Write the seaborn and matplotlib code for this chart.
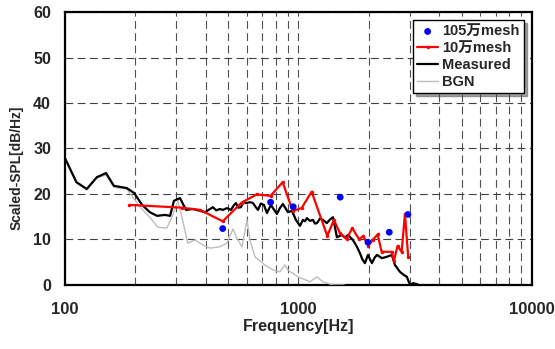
import numpy as np
import pandas as pd
import matplotlib
matplotlib.use("Agg")
import matplotlib.pyplot as plt
from matplotlib.ticker import FixedLocator, NullFormatter
import seaborn as sns

#%% data
# 105万mesh (blue dots)
mesh105_f = [474, 760, 950, 1510, 1985, 2449, 2944]
mesh105_db = [12.4, 18.2, 17.2, 19.3, 9.4, 11.6, 15.5]

# 10万mesh (red line)
mesh10_f = [189, 316, 379, 474, 571, 662, 760, 856, 945, 1032, 1139, 1329, 1419,
            1506, 1609, 1700, 1821, 1895, 1991, 2078, 2184, 2272, 2506, 2564,
            2659, 2767, 2859, 2953]
mesh10_db = [17.6, 17.0, 16.5, 14.0, 18.1, 19.9, 19.6, 22.6, 16.3, 16.9, 20.5,
             10.8, 14.3, 11.4, 10.1, 12.5, 10.0, 10.8, 8.6, 9.9, 11.1, 7.3,
             7.3, 5.3, 8.6, 7.3, 15.6, 6.1]

# Measured (black)
meas_f = [100, 112, 124, 137, 150, 162, 184, 198, 214, 231, 248, 268, 282, 293,
          311, 330, 353, 379, 398, 415, 430, 445, 461, 475, 494, 514, 527, 540,
          553, 567, 582, 596, 620, 639, 655, 671, 690, 712, 733, 762, 785, 809,
          833, 858, 902, 938, 976, 1015, 1045, 1066, 1087, 1120, 1154, 1177,
          1200, 1237, 1274, 1324, 1365, 1406, 1462, 1536, 1580, 1629, 1711,
          1781, 1834, 1880, 1927, 1985, 2064, 2120, 2169, 2279, 2393, 2514,
          2590, 2721, 2830, 2915, 3003, 3093, 3217, 3314, 3446, 3586]
meas_db = [27.9, 22.6, 21.1, 23.7, 24.6, 21.8, 21.3, 20.2, 17.6, 16.0, 15.2,
           15.4, 15.2, 18.5, 19.1, 16.5, 16.7, 16.3, 16.0, 16.6, 17.1, 16.4,
           16.7, 16.5, 16.9, 16.5, 17.4, 18.0, 17.0, 17.1, 18.3, 18.0, 18.2,
           18.0, 17.2, 16.5, 17.9, 17.6, 15.8, 17.6, 16.6, 15.6, 16.9, 17.8,
           16.0, 16.3, 14.3, 13.0, 14.3, 14.0, 14.7, 14.1, 14.3, 13.5, 13.6,
           14.6, 14.3, 13.6, 14.4, 14.9, 10.5, 11.0, 10.4, 11.0, 9.9, 8.4, 7.0,
           5.6, 4.8, 6.6, 4.8, 6.0, 6.6, 5.9, 6.2, 6.6, 4.4, 2.9, 2.2, 1.8, 0.0,
           0.4, 0.2, -0.2, 0.0, -0.4]

# BGN (grey)
bgn_f = [100, 112, 124, 137, 150, 162, 184, 210, 231, 250, 273, 287, 305, 317,
         336, 360, 390, 418, 461, 494, 524, 545, 573, 602, 620, 651, 719, 778,
         833, 875, 902, 995, 1120, 1200, 1274, 1406, 1551, 1695]
bgn_db = [27.9, 22.4, 20.9, 23.5, 24.2, 21.5, 21.1, 17.1, 14.9, 12.7, 12.5,
          14.9, 18.5, 14.9, 9.2, 9.9, 8.8, 8.1, 8.4, 9.2, 12.3, 10.3, 8.4,
          14.3, 9.9, 6.2, 4.4, 3.3, 2.9, 4.4, 3.3, 1.8, 0.7, 1.8, 0.7, 0.0,
          0.0, -0.4]

x_major = [100, 1000, 10000]
x_minor = [200, 300, 400, 500, 600, 700, 800, 900,
           2000, 3000, 4000, 5000, 6000, 7000, 8000, 9000]

#%% plot
sns.set_style("white")
plt.rcParams["font.family"] = ["Liberation Sans", "Noto Sans CJK JP"]
plt.rcParams["font.weight"] = "bold"

fig = plt.figure(figsize=(5.55, 3.49), dpi=100)
ax = fig.add_axes([0.117, 0.1834, 0.8414, 0.7822])

bgn = pd.DataFrame({"f": bgn_f, "db": bgn_db})
meas = pd.DataFrame({"f": meas_f, "db": meas_db})
m10 = pd.DataFrame({"f": mesh10_f, "db": mesh10_db})
m105 = pd.DataFrame({"f": mesh105_f, "db": mesh105_db})

sns.lineplot(data=bgn, x="f", y="db", color="#bdbdbd", lw=1.0,
             estimator=None, label="BGN", ax=ax, zorder=3)
sns.lineplot(data=meas, x="f", y="db", color="black", lw=1.6,
             estimator=None, label="Measured", ax=ax, zorder=4)
sns.lineplot(data=m10, x="f", y="db", color="red", lw=1.6, marker="o",
             markersize=2.5, markeredgewidth=0, estimator=None,
             label="10万mesh", ax=ax, zorder=5)
sns.scatterplot(data=m105, x="f", y="db", color="blue", s=24,
                edgecolor="none", label="105万mesh", ax=ax, zorder=6)

ax.set_xscale("log")
ax.set_xlim(100, 10000)
ax.set_ylim(0, 60)
ax.xaxis.set_major_locator(FixedLocator(x_major))
ax.xaxis.set_minor_locator(FixedLocator(x_minor))
ax.xaxis.set_minor_formatter(NullFormatter())
ax.set_xticklabels([str(v) for v in x_major])
ax.set_yticks(range(0, 61, 10))

dash = (0, (7, 4))
ax.grid(True, axis="y", which="major", color="#404040", lw=0.8, linestyle=dash)
ax.grid(True, axis="x", which="both", color="#505050", lw=0.8, linestyle=dash)
ax.set_axisbelow(True)

ax.tick_params(axis="both", which="both", length=0)
ax.tick_params(axis="x", pad=12, labelsize=12)
ax.tick_params(axis="y", pad=10, labelsize=11.5)
for s in ax.spines.values():
    s.set_color("black")
    s.set_linewidth(1.6)

ax.set_xlabel("Frequency[Hz]", fontsize=11.5, fontweight="bold")
ax.set_ylabel("Scaled-SPL[dB/Hz]", fontsize=10, fontweight="bold")
ax.xaxis.set_label_coords(0.5, -0.125)
ax.yaxis.set_label_coords(-0.088, 0.43)

h, l = ax.get_legend_handles_labels()
order = ["105万mesh", "10万mesh", "Measured", "BGN"]
hmap = dict(zip(l, h))
leg = ax.legend([hmap[k] for k in order], order, loc="upper right",
                bbox_to_anchor=(0.983, 0.971), borderaxespad=0,
                frameon=True, fancybox=False, shadow=True, framealpha=1,
                edgecolor="black", labelspacing=0.2,
                handlelength=1.4, handletextpad=0.3, borderpad=0.3,
                prop={"weight": "bold", "size": 10.5})
leg.get_frame().set_linewidth(1.0)

fig.savefig("out.png", dpi=100)
